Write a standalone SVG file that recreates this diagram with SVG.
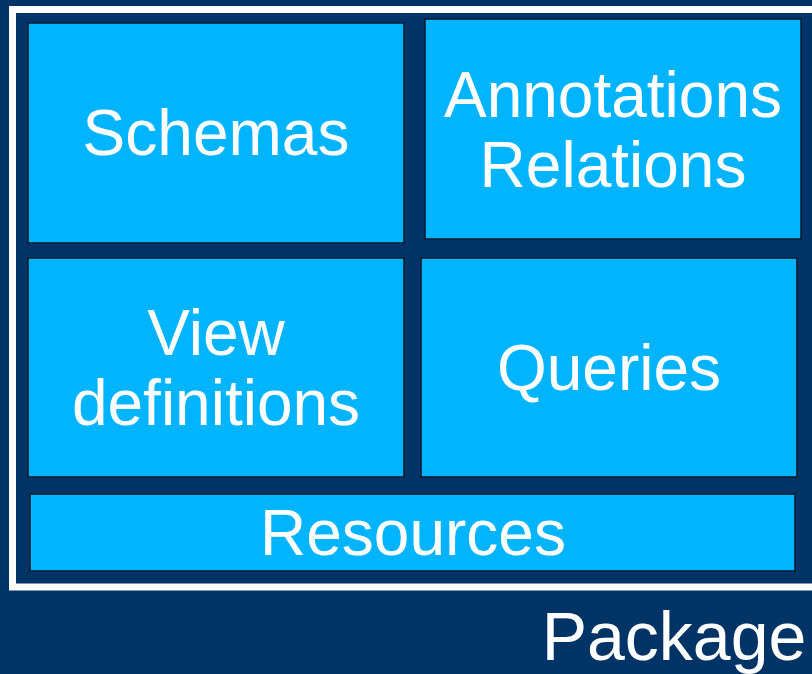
<svg xmlns="http://www.w3.org/2000/svg" width="812" height="674" viewBox="0 0 812 674">
<style>
.box{fill:#00B4FF;stroke:#0A1A2A;stroke-width:1.5}
.t{font-family:"Liberation Sans",Arial,sans-serif;font-size:64px;fill:#FFFFFF;text-anchor:middle}
</style>
<rect x="0" y="0" width="812" height="674" fill="#003366"/>
<g id="package">
<rect x="12.5" y="9.5" width="820" height="577.5" fill="none" stroke="#FFFFFF" stroke-width="7"/>
<text class="t" x="674" y="660" style="font-size:68px">Package</text>
</g>
<g id="schemas">
<rect class="box" x="28" y="23" width="376" height="220"/>
<text class="t" x="216" y="155">Schemas</text>
</g>
<g id="annotations">
<rect class="box" x="425" y="19" width="376" height="220"/>
<text class="t" x="613" y="117">Annotations</text>
<text class="t" x="613" y="187">Relations</text>
</g>
<g id="views">
<rect class="box" x="28" y="258" width="376" height="219"/>
<text class="t" x="216" y="355">View</text>
<text class="t" x="216" y="425">definitions</text>
</g>
<g id="queries">
<rect class="box" x="421" y="258" width="376" height="219"/>
<text class="t" x="609" y="390">Queries</text>
</g>
<g id="resources">
<rect class="box" x="30" y="494" width="765" height="77"/>
<text class="t" x="413" y="555">Resources</text>
</g>
<g id="connectors"></g>
</svg>
